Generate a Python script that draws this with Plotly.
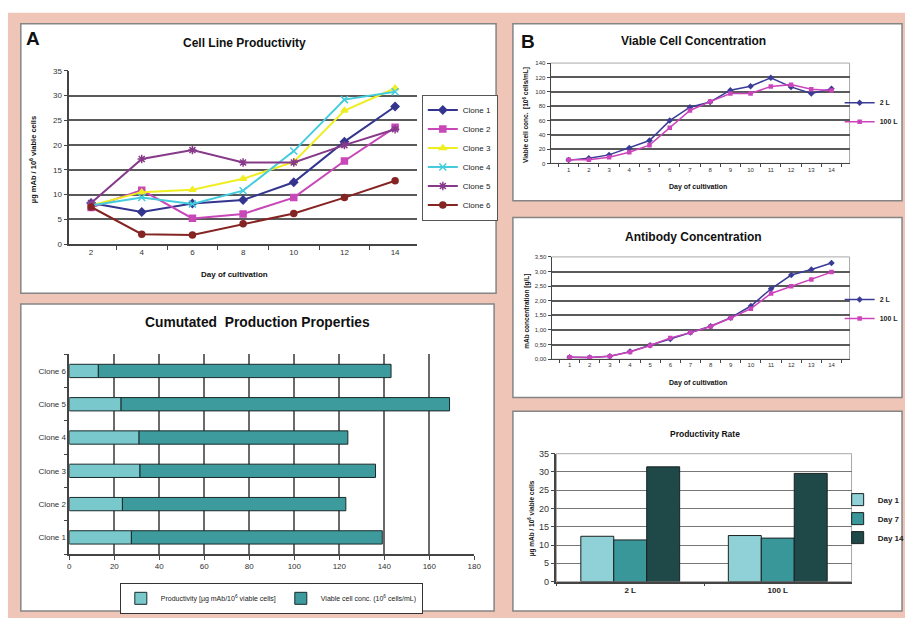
import plotly.graph_objects as go

W, H = 912, 623


def px(x):
    return x / W


def py(y):
    return 1 - y / H


FONT = "Arial, Liberation Sans, sans-serif"

# ---------------- Panel A: Cell Line Productivity ----------------
days_a = [2, 4, 6, 8, 10, 12, 14]
clone_names = ["Clone 1", "Clone 2", "Clone 3", "Clone 4", "Clone 5", "Clone 6"]
clone1 = [8.3, 6.5, 8.2, 8.9, 12.5, 20.7, 27.8]
clone2 = [7.4, 10.9, 5.2, 6.1, 9.4, 16.8, 23.6]
clone3 = [7.8, 10.5, 11.0, 13.2, 16.6, 27.0, 31.5]
clone4 = [7.8, 9.4, 8.1, 10.8, 18.8, 29.2, 30.8]
clone5 = [8.3, 17.2, 19.0, 16.5, 16.5, 20.0, 23.2]
clone6 = [7.5, 2.0, 1.85, 4.1, 6.2, 9.4, 12.8]
clone_values = [clone1, clone2, clone3, clone4, clone5, clone6]
clone_colors = ["#34358f", "#c848b8", "#eeee22", "#44ccdd", "#873a8a", "#862424"]
clone_symbols = ["diamond", "square", "triangle-up", "x-thin-open", "asterisk-open", "circle"]

# ---------------- Cumulated production properties ----------------
cum_clones = ["Clone 1", "Clone 2", "Clone 3", "Clone 4", "Clone 5", "Clone 6"]
cum_productivity = [27.6, 23.6, 31.4, 31.0, 23.0, 12.9]
cum_viable = [111.5, 99.3, 104.7, 92.8, 146.0, 130.1]

# ---------------- Panel B ----------------
days_b = [1, 2, 3, 4, 5, 6, 7, 8, 9, 10, 11, 12, 13, 14]
vcc_2l = [4.6, 7.3, 11.9, 21.4, 31.9, 59.7, 78.4, 85.7, 102.1, 107.6, 119.5, 106.7, 97.6, 104.0]
vcc_100l = [5.0, 5.0, 8.7, 15.5, 25.5, 49.7, 73.9, 86.2, 97.6, 97.6, 107.2, 109.9, 103.5, 101.7]

ab_2l = [0.07, 0.06, 0.10, 0.26, 0.48, 0.69, 0.91, 1.13, 1.42, 1.82, 2.41, 2.88, 3.07, 3.29]
ab_100l = [0.07, 0.06, 0.10, 0.25, 0.47, 0.73, 0.91, 1.12, 1.41, 1.73, 2.25, 2.50, 2.73, 2.98]

rate_groups = ["2 L", "100 L"]
rate_day1 = [12.4, 12.6]
rate_day7 = [11.4, 11.9]
rate_day14 = [31.4, 29.6]
rate_names = ["Day 1", "Day 7", "Day 14"]
rate_colors = ["#8fd1d6", "#3a9799", "#1f4848"]

C2L = "#3a3c96"
C100L = "#cc44bb"

fig = go.Figure()

# Panel A traces
for name, vals, col, sym in zip(clone_names, clone_values, clone_colors, clone_symbols):
    fig.add_trace(go.Scatter(
        x=days_a, y=vals, name=name, mode="lines+markers",
        line=dict(color=col, width=2),
        marker=dict(symbol=sym, size=6 if sym not in ("x-thin-open", "asterisk-open") else 7,
                    color=col, line=dict(color=col, width=1.5)),
        xaxis="x", yaxis="y", legend="legend"))

# Cumulated bars
fig.add_trace(go.Bar(
    y=cum_clones, x=cum_productivity, orientation="h",
    name="Productivity [µg mAb/10<sup>6</sup> viable cells]",
    marker=dict(color="#79c8cc", line=dict(color="#1a2a2a", width=1)),
    width=0.4, offsetgroup="cum", xaxis="x2", yaxis="y2", legend="legend2"))
fig.add_trace(go.Bar(
    y=cum_clones, x=cum_viable, base=cum_productivity, orientation="h",
    name="Viable cell conc. (10<sup>6</sup> cells/mL)",
    marker=dict(color="#3d9a9d", line=dict(color="#1a2a2a", width=1)),
    width=0.4, offsetgroup="cum", xaxis="x2", yaxis="y2", legend="legend2"))

# Viable cell concentration
fig.add_trace(go.Scatter(x=days_b, y=vcc_2l, name="2 L", mode="lines+markers",
                         line=dict(color=C2L, width=1.5),
                         marker=dict(symbol="diamond", size=5, color=C2L),
                         xaxis="x3", yaxis="y3", legend="legend3"))
fig.add_trace(go.Scatter(x=days_b, y=vcc_100l, name="100 L", mode="lines+markers",
                         line=dict(color=C100L, width=1.5),
                         marker=dict(symbol="square", size=4.5, color=C100L),
                         xaxis="x3", yaxis="y3", legend="legend3"))

# Antibody concentration
fig.add_trace(go.Scatter(x=days_b, y=ab_2l, name="2 L", mode="lines+markers",
                         line=dict(color=C2L, width=1.5),
                         marker=dict(symbol="diamond", size=5, color=C2L),
                         xaxis="x4", yaxis="y4", legend="legend4"))
fig.add_trace(go.Scatter(x=days_b, y=ab_100l, name="100 L", mode="lines+markers",
                         line=dict(color=C100L, width=1.5),
                         marker=dict(symbol="square", size=4.5, color=C100L),
                         xaxis="x4", yaxis="y4", legend="legend4"))

# Productivity rate
for name, vals, col in zip(rate_names, [rate_day1, rate_day7, rate_day14], rate_colors):
    fig.add_trace(go.Bar(x=rate_groups, y=vals, name=name,
                         marker=dict(color=col, line=dict(color="#1a2020", width=1)),
                         xaxis="x5", yaxis="y5", legend="legend5"))

tick8 = dict(family=FONT, size=8, color="#333")
tick6 = dict(family=FONT, size=6, color="#333")
GRID = "#5a5a5a"
AXL = "#444"

layout = dict(
    width=W, height=H, margin=dict(l=0, r=0, t=0, b=0),
    paper_bgcolor="white", plot_bgcolor="rgba(0,0,0,0)",
    font=dict(family=FONT, color="#222"),
    separators=",.",
    barmode="group", bargap=0.33, bargroupgap=0,
    showlegend=True,
    # Panel A
    xaxis=dict(domain=[px(68), px(419)], anchor="y", type="category",
               ticks="outside", tickson="boundaries", ticklen=4, tickcolor=AXL,
               showline=True, linecolor=AXL, linewidth=1.5, showgrid=False,
               tickfont=tick8, fixedrange=True),
    yaxis=dict(domain=[py(243), py(67)], anchor="x", range=[0, 35], dtick=5,
               ticks="outside", ticklen=4, tickcolor=AXL, showline=True, linecolor=AXL,
               linewidth=1.5, showgrid=False, zeroline=False, tickfont=tick8,
               minor=dict(tickvals=[5, 10, 15, 20, 25, 30], showgrid=True,
                          gridcolor=GRID, gridwidth=2, ticks="")),
    # Cumulated
    xaxis2=dict(domain=[px(68), px(477)], anchor="y2", range=[0, 180], dtick=20,
                ticks="outside", ticklen=4, tickcolor=AXL, showline=True, linecolor=AXL,
                linewidth=1.5, showgrid=True, gridcolor="#6a6a6a", gridwidth=1.5,
                zeroline=False, tickfont=tick8),
    yaxis2=dict(domain=[py(558), py(355)], anchor="x2", type="category",
                ticks="outside", tickson="boundaries", ticklen=4, tickcolor=AXL,
                showline=True, linecolor=AXL, linewidth=1.5, showgrid=False,
                tickfont=tick8),
    # Viable cell concentration
    xaxis3=dict(domain=[px(554), px(856)], anchor="y3", type="category",
                ticks="outside", tickson="boundaries", ticklen=3, tickcolor=AXL,
                showline=True, linecolor=AXL, linewidth=1, showgrid=False, tickfont=tick6),
    yaxis3=dict(domain=[py(161), py(59)], anchor="x3", range=[0, 140], dtick=20,
                ticks="outside", ticklen=3, tickcolor=AXL, showline=True, linecolor=AXL,
                linewidth=1, showgrid=False, zeroline=False, tickfont=tick6,
                minor=dict(tickvals=[20, 40, 60, 80, 100, 120], showgrid=True,
                           gridcolor=GRID, gridwidth=1.5, ticks="")),
    # Antibody concentration
    xaxis4=dict(domain=[px(555), px(856)], anchor="y4", type="category",
                ticks="outside", tickson="boundaries", ticklen=3, tickcolor=AXL,
                showline=True, linecolor=AXL, linewidth=1, showgrid=False, tickfont=tick6),
    yaxis4=dict(domain=[py(360), py(256)], anchor="x4", range=[0, 3.5], dtick=0.5,
                tickformat=".2f", ticks="outside", ticklen=3, tickcolor=AXL, showline=True,
                linecolor=AXL, linewidth=1, showgrid=False, zeroline=False, tickfont=tick6,
                minor=dict(tickvals=[0.5, 1.0, 1.5, 2.0, 2.5, 3.0], showgrid=True,
                           gridcolor=GRID, gridwidth=1.5, ticks="")),
    # Productivity rate
    xaxis5=dict(domain=[px(560), px(858)], anchor="y5", type="category",
                ticks="outside", tickson="boundaries", ticklen=3, tickcolor=AXL,
                showline=True, linecolor=AXL, linewidth=1.5, showgrid=False,
                tickfont=dict(family=FONT, size=8, color="#222", weight="bold")),
    yaxis5=dict(domain=[py(586), py(456)], anchor="x5", range=[0, 35], dtick=5,
                ticks="outside", ticklen=4, tickcolor=AXL, showline=True, linecolor=AXL,
                linewidth=1.5, showgrid=False, zeroline=False,
                tickfont=dict(family=FONT, size=9, color="#333"),
                minor=dict(tickvals=[5, 10, 15, 20, 25, 30], showgrid=True,
                           gridcolor="#777", gridwidth=1.2, ticks="")),
    legend=dict(x=px(424), y=py(155), xanchor="left", yanchor="middle",
                bordercolor="#555", borderwidth=1, bgcolor="white",
                font=dict(family=FONT, size=8, color="#222"), tracegroupgap=0,
                itemwidth=30),
    legend2=dict(x=px(272), y=py(603), xanchor="center", yanchor="middle",
                 orientation="h", bordercolor="#333", borderwidth=1, bgcolor="white",
                 font=dict(family=FONT, size=7, color="#222"), itemwidth=30),
    legend3=dict(x=px(846), y=py(109), xanchor="left", yanchor="middle",
                 bgcolor="rgba(0,0,0,0)",
                 font=dict(family=FONT, size=7, color="#222", weight="bold"), itemwidth=30),
    legend4=dict(x=px(846), y=py(309), xanchor="left", yanchor="middle",
                 bgcolor="rgba(0,0,0,0)",
                 font=dict(family=FONT, size=7, color="#222", weight="bold"), itemwidth=30),
    legend5=dict(x=px(844), y=py(522), xanchor="left", yanchor="middle",
                 bgcolor="rgba(0,0,0,0)",
                 font=dict(family=FONT, size=8, color="#222", weight="bold"), itemwidth=30),
)

shapes = [
    dict(type="rect", xref="paper", yref="paper", x0=px(6), x1=1, y0=0, y1=py(8),
         fillcolor="#eec5b6", line=dict(width=0), layer="below"),
]
panels = [(19, 19, 499, 293), (19, 304, 497, 616), (516, 19, 909, 199),
          (516, 216, 909, 399), (516, 413, 909, 616)]
for (x0, y0, x1, y1) in panels:
    shapes.append(dict(type="rect", xref="paper", yref="paper",
                       x0=px(x0), x1=px(x1), y0=py(y1), y1=py(y0),
                       fillcolor="white", line=dict(color="#858585", width=1.5),
                       layer="below"))
for ax in ["3", "4", "5"]:
    shapes.append(dict(type="rect", xref=f"x{ax} domain", yref=f"y{ax} domain",
                       x0=0, x1=1, y0=0, y1=1, line=dict(color="#a8a8a8", width=1),
                       fillcolor="rgba(0,0,0,0)", layer="below"))
layout["shapes"] = shapes


def ann(text, x, y, size, bold=True, angle=0, xanchor="center", color="#111"):
    return dict(text=text, x=px(x), y=py(y), xref="paper", yref="paper",
                showarrow=False, textangle=angle, xanchor=xanchor, yanchor="middle",
                font=dict(family=FONT, size=size, color=color,
                          weight="bold" if bold else "normal"))


layout["annotations"] = [
    ann("A", 22, 34, 19, xanchor="left"),
    ann("Cell Line Productivity", 245, 39, 12),
    ann("µg mAb / 10<sup>6</sup> viable cells", 32, 157, 7.5, angle=-90),
    ann("Day of cultivation", 235, 274, 8),
    ann("Cumutated  Production Properties", 258, 323, 13.8),
    ann("B", 522, 37, 19, xanchor="left"),
    ann("Viable Cell Concentration", 698, 37, 12),
    ann("Viable cell conc.  [10<sup>6</sup> cells/mL]", 529, 112, 6.5, angle=-90),
    ann("Day of cultivation", 703, 185, 7),
    ann("Antibody Concentration", 698, 236, 12),
    ann("mAb concentration [g/L]", 530, 311, 6.5, angle=-90),
    ann("Day of cultivation", 703, 384, 7),
    ann("Productivity Rate", 710, 436, 8.5),
    ann("µg mAb / 10<sup>6</sup> viable cells", 535, 522, 6.5, angle=-90),
]

fig.update_layout(**layout)
fig.write_html("out.html", config={"displayModeBar": False},
               post_script="document.body.style.margin='0';document.body.style.padding='0';")
